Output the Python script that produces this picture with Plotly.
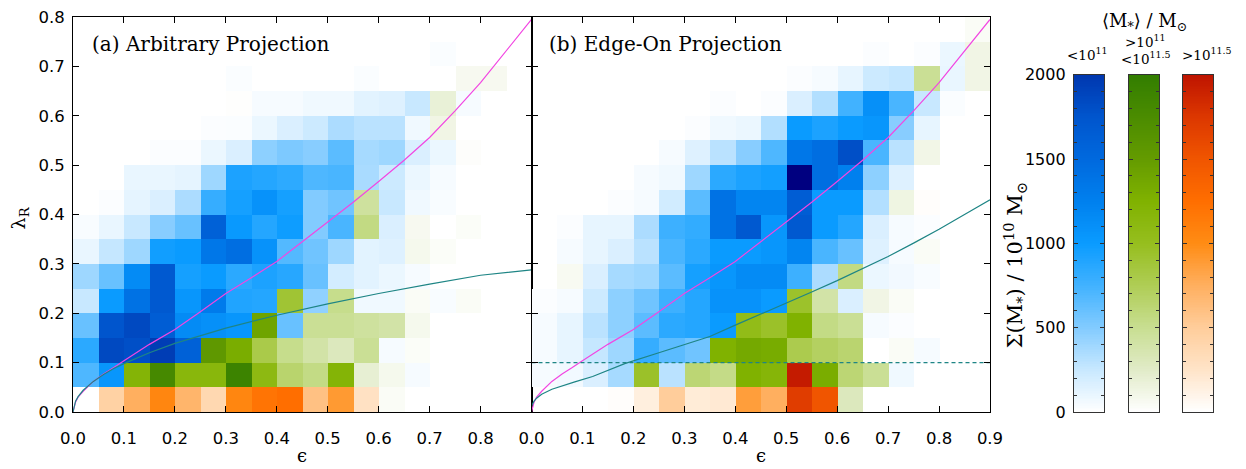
import plotly.graph_objects as go

# ---------------------------------------------------------------------------
# Binned galaxy sample: lambda_R vs ellipticity, 0.05 x 0.05 bins.
# Each cell: group letter (B: <1e11, G: 1e11-1e11.5, O: >1e11.5 Msun mean
# stellar mass) + summed stellar mass in 1e10 Msun.  "." = empty bin.
# Rows run from the top bin (lambda 0.75-0.80) down to the bottom bin
# (0.00-0.05); columns from eps 0.00-0.05 to 0.85-0.90.
# ---------------------------------------------------------------------------
panel_a_cells = [
    ". . . . . . . . . . . . . . . . . .",
    ". . . . . . . . . . . . . . B25 . . .",
    ". . . . . . B25 . . . . B25 . . . G70 G70 .",
    ". . . . . . G10 B40 B40 B70 B70 B130 B150 B250 G180 B40 . .",
    ". . . . . B20 B25 B90 B170 B230 B350 B300 B300 B70 G120 . . .",
    ". . . B20 B20 B90 B170 B460 B520 B480 B650 B370 B400 B170 B90 G20 . .",
    ". . B100 B100 B120 B400 B920 B880 B840 B700 B720 B360 B230 B90 B40 . . .",
    ". B20 B120 B170 B350 B800 B950 B1080 B950 B500 B570 G440 B250 B70 B30 . . .",
    "B30 B100 B250 B480 B600 B1600 B1020 B880 B980 B500 B720 G560 B170 G70 . G30 . .",
    "B100 B260 B400 B970 B1000 B1350 B1450 B1080 B680 B570 B400 B130 B150 G80 G30 . . .",
    "B400 B600 B1150 B1700 B950 B1000 B850 B920 B870 B600 B200 B130 B90 B40 . . . .",
    "B250 B1000 B1400 B1700 B1050 B1300 B900 B880 G900 B450 G520 B70 B70 G40 B30 G40 . .",
    "B600 B1750 B1850 B1650 B1150 B1100 B1050 G1400 B600 G480 G480 G440 G400 G80 . . . .",
    "B850 B1850 B1800 B1950 B1600 G1550 G1300 G800 G520 G400 G300 G480 B40 G30 . . . .",
    "B700 B1050 G1200 G1800 G1150 G1150 G1900 G1100 G650 G550 G1200 G200 G80 B40 . . . .",
    ". O450 O750 O1050 O700 O380 O1050 O1200 O1250 O600 O900 O280 G40 . . . . .",
]

panel_b_cells = [
    ". . . . . . . . . . . . . . . . . G40",
    ". . . . . . . . . . . . . B20 . B20 B90 G120",
    ". . . . . . . . . . B20 B40 B110 B230 B260 G480 B100 G120",
    ". . . . . . . B20 . B20 B170 B330 B750 B1100 B720 B250 B25 .",
    ". . . . . . B20 B70 B90 B330 B1000 B920 B1000 B1050 B480 B110 . .",
    ". . . . . B40 B150 B300 B480 B700 B1350 B1450 B1800 B720 B300 G110 . .",
    ". . . . B40 B70 B400 B850 B920 B960 B2500 B1450 B1250 B460 B150 . . .",
    ". . . B20 B40 B210 B650 B1400 B1200 B1200 B1650 B1000 B1000 B330 G130 O20 . .",
    ". B20 B110 B110 B350 B770 B820 B1400 B1700 B1050 B1700 B1000 B880 B170 B40 B20 . .",
    ". B40 B110 B170 B300 B720 B850 B1000 B1000 B1050 B1200 B720 B600 B150 B40 G40 . .",
    ". G60 B170 B370 B400 B650 B950 B1050 B1150 B1150 B770 B350 G560 B90 B60 B30 . .",
    "B20 B40 B230 B460 B570 B770 B880 B1080 B1080 B1000 G940 G400 B170 G120 G40 . . .",
    "B40 B110 B300 B460 B650 B850 B880 B1000 G1050 G950 G1250 G550 G480 B40 B20 . . .",
    "B40 B110 B260 B400 B800 B650 B570 G1250 G1350 G1320 G780 G700 G640 . G40 B40 . .",
    "B40 B60 B170 B370 G950 B300 G620 G540 G1250 G1180 O1950 G1300 G620 G480 B70 . . .",
    ". . . O20 O150 O500 O180 O200 O870 O750 O1700 O1500 G300 . . . . .",
]

# bin centres
eps_centres = [0.025, 0.075, 0.125, 0.175, 0.225, 0.275, 0.325, 0.375, 0.425,
               0.475, 0.525, 0.575, 0.625, 0.675, 0.725, 0.775, 0.825, 0.875]
lam_centres = [0.025, 0.075, 0.125, 0.175, 0.225, 0.275, 0.325, 0.375,
               0.425, 0.475, 0.525, 0.575, 0.625, 0.675, 0.725, 0.775]

# reference curves
magenta_eps = [0.0, 0.005, 0.01, 0.02, 0.04, 0.06, 0.08, 0.1, 0.15, 0.2, 0.25,
               0.3, 0.35, 0.4, 0.45, 0.5, 0.55, 0.6, 0.65, 0.7, 0.75, 0.8,
               0.85, 0.9]
magenta_lam = [0.0, 0.02, 0.03, 0.042, 0.062, 0.077, 0.09, 0.104, 0.137, 0.167,
               0.203, 0.24, 0.272, 0.305, 0.345, 0.385, 0.425, 0.467, 0.51,
               0.556, 0.61, 0.667, 0.73, 0.795]

teal_a_eps = [0.0, 0.005, 0.01, 0.02, 0.04, 0.06, 0.08, 0.1, 0.15, 0.2, 0.3,
              0.4, 0.5, 0.6, 0.7, 0.8, 0.9]
teal_a_lam = [0.0, 0.022, 0.031, 0.044, 0.062, 0.076, 0.088, 0.098, 0.12,
              0.139, 0.17, 0.196, 0.219, 0.24, 0.259, 0.277, 0.288]

teal_b_eps = [0.0, 0.005, 0.01, 0.02, 0.04, 0.06, 0.085, 0.12, 0.183, 0.25,
              0.3, 0.35, 0.4, 0.45, 0.5, 0.55, 0.6, 0.65, 0.7, 0.75, 0.8,
              0.85, 0.9]
teal_b_lam = [0.012, 0.022, 0.028, 0.036, 0.046, 0.053, 0.061, 0.072, 0.098,
              0.12, 0.137, 0.153, 0.176, 0.198, 0.22, 0.243, 0.266, 0.29,
              0.315, 0.342, 0.37, 0.4, 0.43]

slow_limit = 0.1

eps_ticks = [0.0, 0.1, 0.2, 0.3, 0.4, 0.5, 0.6, 0.7, 0.8, 0.9]
lam_ticks = [0.0, 0.1, 0.2, 0.3, 0.4, 0.5, 0.6, 0.7, 0.8]
cbar_ticks = [0, 500, 1000, 1500, 2000]

# ---------------------------------------------------------------------------
# colour tables (value in 1e10 Msun -> colour)
# ---------------------------------------------------------------------------
BLUE = [(0, "#ffffff"), (250, "#c8e8ff"), (500, "#82cbff"), (750, "#41b2ff"),
        (1000, "#0a9bff"), (1250, "#0080ee"), (1500, "#0069de"),
        (1750, "#0055cd"), (2000, "#0037af"), (2500, "#000080")]
GREEN = [(0, "#ffffff"), (250, "#e1ebc8"), (500, "#c8de91"), (750, "#afcd55"),
         (1000, "#96be1e"), (1250, "#80b200"), (1500, "#649b00"),
         (1750, "#4b8c00"), (2000, "#327d00")]
ORANGE = [(0, "#ffffff"), (250, "#ffe4c8"), (500, "#ffcd9b"), (750, "#ffaf5f"),
          (1000, "#ff8c14"), (1250, "#ff6e00"), (1500, "#f05500"),
          (1750, "#dc3700"), (2000, "#be1400")]
TABLES = {"B": BLUE, "G": GREEN, "O": ORANGE}


def scale(table):
    top = table[-1][0]
    return [[v / top, c] for v, c in table], top


def parse(rows):
    grid = []
    for row in reversed(rows):          # bottom bin first
        toks = row.split()
        assert len(toks) == 18, row
        grid.append([None if t == "." else (t[0], int(t[1:])) for t in toks])
    return grid


# ---------------------------------------------------------------------------
# geometry (pixels in a 1246 x 469 page)
# ---------------------------------------------------------------------------
W, H = 1246, 469
L, R, T, B = 73, 1213, 8, 412
PW, PH = R - L, B - T


def fx(px):
    return min(1.0, max(0.0, (px - L) / PW))


def fy(py):
    return (B - py) / PH


def fyd(py):
    return min(1.0, max(0.0, fy(py)))


fig = go.Figure()

for grid, xa, ya in ((parse(panel_a_cells), "x", "y"),
                     (parse(panel_b_cells), "x2", "y2")):
    for g, table in TABLES.items():
        cs, top = scale(table)
        z = [[c[1] if (c is not None and c[0] == g) else None for c in row]
             for row in grid]
        fig.add_trace(go.Heatmap(x=eps_centres, y=lam_centres, z=z,
                                 colorscale=cs, zmin=0, zmax=top,
                                 showscale=False, hoverinfo="skip",
                                 xaxis=xa, yaxis=ya))

MAGENTA = "#f246e2"
TEAL = "#1e8585"
for xa, ya, te, tl in (("x", "y", teal_a_eps, teal_a_lam),
                       ("x2", "y2", teal_b_eps, teal_b_lam)):
    fig.add_trace(go.Scatter(x=magenta_eps, y=magenta_lam, mode="lines",
                             line=dict(color=MAGENTA, width=1.2),
                             xaxis=xa, yaxis=ya, hoverinfo="skip"))
    fig.add_trace(go.Scatter(x=te, y=tl, mode="lines",
                             line=dict(color=TEAL, width=1.2),
                             xaxis=xa, yaxis=ya, hoverinfo="skip"))
fig.add_trace(go.Scatter(x=[0, 0.9], y=[slow_limit, slow_limit], mode="lines",
                         line=dict(color=TEAL, width=1.2, dash="4px,3px"),
                         xaxis="x2", yaxis="y2", hoverinfo="skip"))

# colour bars drawn as narrow heatmaps on their own axes
levels = list(range(0, 2001, 10))
bar_pos = {"B": (1074, 1104, "x3", "y3"), "G": (1129, 1159, "x4", "y4"),
           "O": (1183, 1213, "x5", "y5")}
for g, (x0, x1, xa, ya) in bar_pos.items():
    cs, top = scale(TABLES[g])
    fig.add_trace(go.Heatmap(x=[0], y=levels, z=[[v] for v in levels],
                             colorscale=cs, zmin=0, zmax=top, showscale=False,
                             hoverinfo="skip", xaxis=xa, yaxis=ya))

SANS = "DejaVu Sans"
SERIF = "DejaVu Serif"
TICK_FONT = dict(family=SANS, size=16.5, color="black")
frame = dict(showline=True, linecolor="black", linewidth=1, mirror="allticks",
             ticks="inside", ticklen=6, tickcolor="black", tickwidth=1,
             showgrid=False, zeroline=False, tickfont=TICK_FONT)


def fmt(v):
    return f"{v:.1f}"


layout = dict(
    width=W, height=H, margin=dict(l=L, r=W - R, t=T, b=H - B),
    paper_bgcolor="white", plot_bgcolor="white", showlegend=False,
    xaxis=dict(frame, domain=[fx(73), fx(531.5)], range=[0, 0.9],
               tickvals=eps_ticks[:-1], ticktext=[fmt(v) for v in eps_ticks[:-1]],
               ticklabelstandoff=11, anchor="y"),
    yaxis=dict(frame, domain=[0, 1], range=[0, 0.8], tickvals=lam_ticks,
               ticktext=[fmt(v) for v in lam_ticks], ticklabelstandoff=4,
               anchor="x"),
    xaxis2=dict(frame, domain=[fx(531.5), fx(990)], range=[0, 0.9],
                tickvals=eps_ticks, ticktext=[fmt(v) for v in eps_ticks],
                ticklabelstandoff=11, anchor="y2"),
    yaxis2=dict(frame, domain=[0, 1], range=[0, 0.8], tickvals=lam_ticks,
                showticklabels=False, anchor="x2"),
)
bar_frame = dict(showline=True, linecolor="#333", linewidth=1.3, mirror=True,
                 showgrid=False, zeroline=False)
for g, (x0, x1, xa, ya) in bar_pos.items():
    layout["xaxis" + xa[1:]] = dict(bar_frame, domain=[fx(x0), fx(x1)],
                                    range=[-0.5, 0.5], showticklabels=False,
                                    ticks="", anchor=ya)
    layout["yaxis" + ya[1:]] = dict(
        bar_frame, domain=[fyd(412), fyd(67)], range=[0, 2000],
        tickvals=cbar_ticks, ticks="inside", ticklen=4, tickcolor="#333",
        mirror="allticks", showticklabels=(g == "B"),
        minor=dict(dtick=100, ticks="inside", ticklen=3, tickcolor="#333"),
        tickfont=dict(family=SANS, size=16, color="black"),
        ticklabelstandoff=4, anchor=xa)
fig.update_layout(**layout)

ann = []
label_font = dict(family=SERIF, size=20, color="black")
ann.append(dict(text="(a) Arbitrary Projection", xref="x", yref="y",
                x=0.033, y=0.745, xanchor="left", yanchor="middle",
                showarrow=False, font=label_font))
ann.append(dict(text="(b) Edge-On Projection", xref="x2", yref="y2",
                x=0.031, y=0.745, xanchor="left", yanchor="middle",
                showarrow=False, font=label_font))
for xr in ("x", "x2"):
    ann.append(dict(text="ϵ", xref=xr, yref="paper", x=0.45, y=fy(457),
                    xanchor="center", yanchor="middle", showarrow=False,
                    font=dict(family=SERIF, size=18, color="black")))
ann.append(dict(text="λ<sub>R</sub>", xref="paper", yref="paper",
                x=(19 - L) / PW, y=fy(214), textangle=-90, showarrow=False,
                xanchor="center", yanchor="middle",
                font=dict(family=SERIF, size=19, color="black")))
ann.append(dict(text="Σ(M<sub>*</sub>) / 10<sup>10</sup> M<sub>⊙</sub>",
                xref="paper", yref="paper", x=fx(1015), y=fy(262),
                textangle=-90, showarrow=False, xanchor="center",
                yanchor="middle", font=dict(family=SERIF, size=21, color="black")))
ann.append(dict(text="⟨M<sub>*</sub>⟩ / M<sub>⊙</sub>", xref="paper",
                yref="paper", x=fx(1144), y=fy(13), showarrow=False,
                xanchor="center", yanchor="middle",
                font=dict(family=SERIF, size=18, color="black")))
small = dict(family=SERIF, size=13.5, color="black")
ann.append(dict(text="&lt;10<sup>11</sup>", xref="paper", yref="paper",
                x=fx(1087), y=fy(46), showarrow=False, xanchor="center",
                yanchor="middle", font=small))
ann.append(dict(text="&gt;10<sup>11</sup>", xref="paper", yref="paper",
                x=fx(1145), y=fy(33), showarrow=False, xanchor="center",
                yanchor="middle", font=small))
ann.append(dict(text="&lt;10<sup>11.5</sup>", xref="paper", yref="paper",
                x=fx(1146), y=fy(50), showarrow=False, xanchor="center",
                yanchor="middle", font=small))
ann.append(dict(text="&gt;10<sup>11.5</sup>", xref="paper", yref="paper",
                x=fx(1207), y=fy(46), showarrow=False, xanchor="center",
                yanchor="middle", font=small))
fig.update_layout(annotations=ann)

fig.write_html("out.html")
